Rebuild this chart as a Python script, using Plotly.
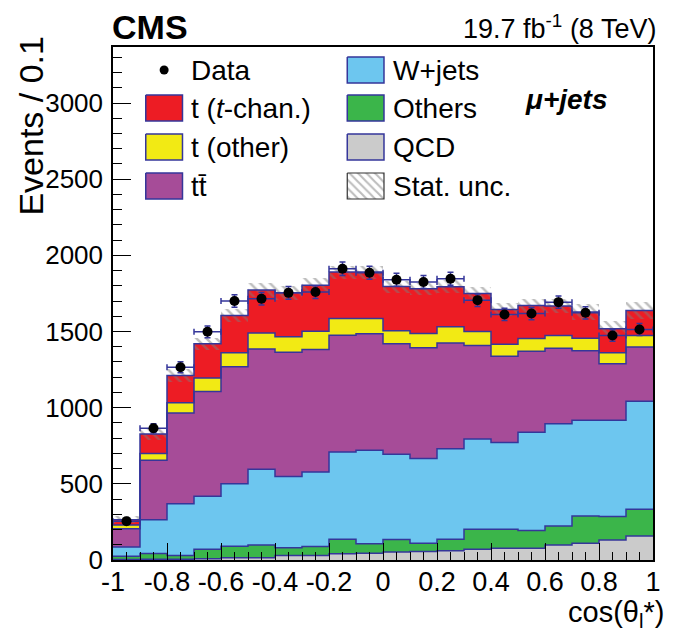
import numpy as np
import plotly.graph_objects as go

# ---- binning: cos(theta_l*) in 20 bins of 0.1 ----
bin_edges = [-1.0, -0.9, -0.8, -0.7, -0.6, -0.5, -0.4, -0.3, -0.2, -0.1, 0.0,
             0.1, 0.2, 0.3, 0.4, 0.5, 0.6, 0.7, 0.8, 0.9, 1.0]

# ---- expected yields per process (events / 0.1) ----
qcd = [3, 5, 5, 8, 15, 15, 30, 30, 41, 45, 52, 55, 61, 70, 77, 77, 99, 110, 132, 158]
others = [22, 38, 25, 62, 76, 83, 50, 59, 96, 61, 83, 55, 75, 132, 125, 116, 125, 179, 153, 175]
wjets = [61, 221, 340, 348, 410, 497, 469, 489, 572, 614, 560, 557, 594, 592, 570, 645, 671, 628, 632, 709]
ttbar = [119, 391, 595, 689, 767, 791, 815, 804, 767, 765, 725, 726, 695, 614, 566, 532, 495, 456, 372, 357]
t_other = [24, 44, 68, 88, 92, 105, 101, 120, 110, 101, 85, 94, 106, 92, 79, 84, 84, 83, 71, 75]
t_tchan = [36, 129, 178, 224, 245, 281, 289, 301, 304, 304, 290, 294, 263, 250, 228, 217, 193, 172, 158, 164]
stat_unc = [25, 40, 40, 40, 45, 48, 45, 50, 42, 42, 40, 40, 42, 45, 45, 45, 45, 55, 50, 58]

# ---- observed data ----
data = [255, 865, 1265, 1498, 1700, 1715, 1754, 1759, 1912, 1886, 1840, 1825, 1846, 1706,
        1612, 1618, 1693, 1623, 1474, 1513]
data_err = [16, 29, 36, 39, 41, 41, 42, 42, 44, 43, 43, 43, 43, 41, 40, 40, 41, 40, 38, 39]

# ---- axis ticks ----
x_tickvals = [-1, -0.8, -0.6, -0.4, -0.2, 0, 0.2, 0.4, 0.6, 0.8, 1]
x_ticktext = ["-1", "-0.8", "-0.6", "-0.4", "-0.2", "0", "0.2", "0.4", "0.6", "0.8", "1"]
y_tickvals = [0, 500, 1000, 1500, 2000, 2500, 3000]
y_ticktext = ["0", "500", "1000", "1500", "2000", "2500", "3000"]

# ---- style ----
FONT = "Liberation Sans, Arial, Helvetica, sans-serif"
NAVY = "#35369a"
colors = {
    "QCD": "#cbcbcb",
    "Others": "#3bb54a",
    "W+jets": "#6dc6ef",
    "ttbar": "#a64c98",
    "t_other": "#f2ea14",
    "t_tchan": "#ed1c24",
}

edges = np.array(bin_edges)
centers = 0.5 * (edges[:-1] + edges[1:])
widths = edges[1:] - edges[:-1]

# stacking order, bottom to top
stack = [
    ("QCD", qcd, colors["QCD"]),
    ("Others", others, colors["Others"]),
    ("W+jets", wjets, colors["W+jets"]),
    ("tt̄", ttbar, colors["ttbar"]),
    ("t (other)", t_other, colors["t_other"]),
    ("t (t-chan.)", t_tchan, colors["t_tchan"]),
]

fig = go.Figure()

base = np.zeros(len(centers))
level_tops = []
for name, vals, col in stack:
    vals = np.array(vals, dtype=float)
    fig.add_trace(go.Bar(
        x=centers, y=vals, base=base.copy(), width=widths, name=name,
        marker=dict(color=col, line=dict(width=0)), showlegend=False,
    ))
    base = base + vals
    level_tops.append(base.copy())

# histogram outlines for each stacked level
for top in level_tops:
    fig.add_trace(go.Scatter(
        x=edges, y=np.append(top, top[-1]), mode="lines",
        line=dict(color=NAVY, width=1.5, shape="hv"), showlegend=False, hoverinfo="skip",
    ))

total = level_tops[-1]
unc = np.array(stat_unc, dtype=float)

# statistical uncertainty band (hatched)
fig.add_trace(go.Bar(
    x=centers, y=2 * unc, base=total - unc, width=widths, name="Stat. unc.",
    marker=dict(color="rgba(0,0,0,0)", line=dict(width=0),
                pattern=dict(shape="\\", fgcolor="#7c7c7c", bgcolor="rgba(0,0,0,0)",
                             size=7, solidity=0.35, fillmode="overlay")),
    showlegend=False,
))

# data points
fig.add_trace(go.Scatter(
    x=centers, y=data, mode="markers", name="Data",
    marker=dict(color="black", size=10),
    error_y=dict(type="data", array=data_err, color=NAVY, thickness=1.5, width=3),
    error_x=dict(type="constant", value=0.05, color=NAVY, thickness=1.5, width=3),
    showlegend=False,
))

# ---- legend drawn in an overlay frame spanning the plot area ----
L, R, T, B = 113, 657, 47, 560  # plot area in pixels


def fx(px):
    return (px - L) / (R - L)


def fy(py):
    return (B - py) / (B - T)


row_y = [70, 108, 147, 186]
box_half_h = 13
col_box = [(146, 183), (349, 386)]
col_text = [190, 393]

legend_items = [
    (0, 0, "Data", None),
    (0, 1, "t (<i>t</i>-chan.)", colors["t_tchan"]),
    (0, 2, "t (other)", colors["t_other"]),
    (0, 3, "tt̄", colors["ttbar"]),
    (1, 0, "W+jets", colors["W+jets"]),
    (1, 1, "Others", colors["Others"]),
    (1, 2, "QCD", colors["QCD"]),
    (1, 3, "Stat. unc.", "hatch"),
]

annotations = []
for col, row, label, fillc in legend_items:
    x0, x1 = col_box[col]
    yc = row_y[row]
    if fillc is None:
        fig.add_trace(go.Scatter(
            x=[fx(0.5 * (x0 + x1))], y=[fy(yc)], mode="markers",
            marker=dict(color="black", size=9), xaxis="x2", yaxis="y2",
            showlegend=False, hoverinfo="skip",
        ))
    else:
        bx = [fx(x0), fx(x1), fx(x1), fx(x0), fx(x0)]
        by = [fy(yc - box_half_h), fy(yc - box_half_h), fy(yc + box_half_h),
              fy(yc + box_half_h), fy(yc - box_half_h)]
        if fillc == "hatch":
            fig.add_trace(go.Scatter(
                x=bx, y=by, mode="lines", fill="toself", fillcolor="white",
                fillpattern=dict(shape="\\", fgcolor="#7c7c7c", bgcolor="white",
                                 size=6, solidity=0.35),
                line=dict(color="#333333", width=1.2), xaxis="x2", yaxis="y2",
                showlegend=False, hoverinfo="skip",
            ))
        else:
            fig.add_trace(go.Scatter(
                x=bx, y=by, mode="lines", fill="toself", fillcolor=fillc,
                line=dict(color=NAVY, width=1.5), xaxis="x2", yaxis="y2",
                showlegend=False, hoverinfo="skip",
            ))
    annotations.append(dict(
        x=fx(col_text[col]), y=fy(yc), xref="paper", yref="paper",
        text=label, showarrow=False, xanchor="left", yanchor="middle",
        font=dict(family=FONT, size=28, color="black"),
    ))

# channel label
annotations.append(dict(
    x=fx(569), y=fy(99), xref="paper", yref="paper", text="<b><i>μ+jets</i></b>",
    showarrow=False, xanchor="center", yanchor="middle",
    font=dict(family=FONT, size=28, color="black"),
))
# experiment and luminosity labels
annotations.append(dict(
    x=-0.005, y=fy(27), xref="paper", yref="paper", text="<b>CMS</b>",
    showarrow=False, xanchor="left", yanchor="middle",
    font=dict(family=FONT, size=34, color="black"),
))
annotations.append(dict(
    x=1.01, y=fy(27), xref="paper", yref="paper", text="19.7 fb<sup>-1</sup> (8 TeV)",
    showarrow=False, xanchor="right", yanchor="middle",
    font=dict(family=FONT, size=27, color="black"),
))
# axis titles
annotations.append(dict(
    x=fx(30), y=fy(34), xref="paper", yref="paper", text="Events / 0.1",
    showarrow=False, textangle=-90, xanchor="center", yanchor="top",
    font=dict(family=FONT, size=34, color="black"),
))
annotations.append(dict(
    x=fx(670), y=fy(634), xref="paper", yref="paper", text="cos(θ<sub>l</sub>*)",
    showarrow=False, xanchor="right", yanchor="bottom",
    font=dict(family=FONT, size=29, color="black"),
))

fig.update_layout(
    width=673, height=634,
    margin=dict(l=L, r=673 - R, t=T, b=634 - B, pad=0),
    paper_bgcolor="white", plot_bgcolor="white",
    barmode="overlay", bargap=0,
    showlegend=False,
    annotations=annotations,
    xaxis=dict(
        range=[-1, 1], tickmode="array", tickvals=x_tickvals, ticktext=x_ticktext,
        ticks="inside", ticklen=17, tickwidth=1.2, tickcolor="black",
        minor=dict(tickmode="linear", tick0=-1, dtick=0.05, ticks="inside",
                   ticklen=8, tickwidth=1.2, tickcolor="black"),
        showline=True, mirror=True, linecolor="black", linewidth=1.5,
        showgrid=False, zeroline=False, ticklabelstandoff=-3,
        tickfont=dict(family=FONT, size=27, color="black"),
    ),
    yaxis=dict(
        range=[0, 3368], tickmode="array", tickvals=y_tickvals, ticktext=y_ticktext,
        ticks="inside", ticklen=18, tickwidth=1.2, tickcolor="black",
        minor=dict(tickmode="linear", tick0=0, dtick=100, ticks="inside",
                   ticklen=9, tickwidth=1.2, tickcolor="black"),
        showline=True, mirror=True, linecolor="black", linewidth=1.5,
        showgrid=False, zeroline=False, ticklabelstandoff=3,
        tickfont=dict(family=FONT, size=26, color="black"),
    ),
    xaxis2=dict(overlaying="x", anchor="y2", range=[0, 1], visible=False, fixedrange=True),
    yaxis2=dict(overlaying="y", anchor="x2", range=[0, 1], visible=False, fixedrange=True),
)

fig.write_html("out.html")
